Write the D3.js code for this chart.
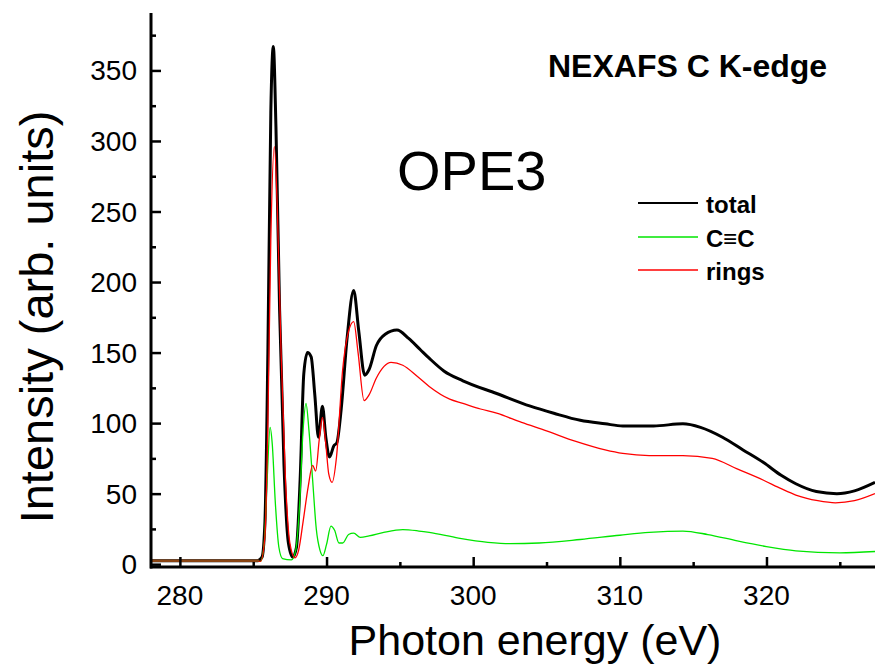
<!DOCTYPE html>
<html>
<head>
<meta charset="utf-8">
<script src="https://cdn.jsdelivr.net/npm/d3@7"></script>
<style>
  body { margin: 0; background: #fff; }
  svg { display: block; font-family: "Liberation Sans", Arial, sans-serif; }
</style>
</head>
<body>
<svg id="chart" width="875" height="670"></svg>
<script>
// photon energy (eV) and intensity
const totalE = [278, 285.3, 285.6, 285.8, 286.0, 286.2, 286.37, 286.55, 286.8, 287.1, 287.4, 287.7, 287.95, 288.2, 288.45, 288.7, 288.95, 289.2, 289.45, 289.72, 289.95, 290.2, 290.5, 290.7, 291.0, 291.4, 291.85, 292.2, 292.6, 292.9, 293.4, 294.0, 294.8, 295.6, 296.4, 297.0, 298.0, 299.3, 301.6, 303.9, 305.5, 307.3, 309, 310.2, 312.3, 314.3, 315.5, 317.0, 318.4, 319.8, 321.0, 322.0, 323.4, 324.8, 326.0, 327.4];
const totalI = [2.5, 2.5, 5, 30, 150, 320, 367, 310, 180, 70, 15, 5, 12, 60, 135, 150, 147, 120, 90, 112, 90, 76, 84, 86, 110, 160, 194, 165, 134, 138, 155, 163, 166, 160, 152, 146, 137, 130, 121, 112, 107, 102, 99.5, 98, 98, 99.5, 97, 90, 81, 72, 63, 57, 51.5, 50, 52, 58];

const ringsE = [278, 285.5, 285.8, 286.0, 286.2, 286.44, 286.65, 286.9, 287.2, 287.5, 287.85, 288.1, 288.4, 288.75, 289.05, 289.26, 289.5, 289.72, 289.95, 290.15, 290.38, 290.68, 291.1, 291.5, 291.85, 292.15, 292.56, 292.9, 293.4, 294.4, 295.2, 296.2, 297.0, 298.4, 299.3, 300.5, 301.6, 303.3, 305, 307, 309, 310.2, 312, 314.3, 316.3, 318, 319.8, 321, 322, 323.5, 324.7, 326, 327.4];
const ringsI = [2, 2, 20, 100, 230, 296, 250, 150, 60, 15, 4.5, 10, 30, 55, 70, 66, 88, 104, 85, 64, 58, 76, 138, 165, 172, 150, 116, 120, 132, 143, 141, 133, 126, 117, 114, 110, 107, 100.5, 94.5, 87, 81, 78.5, 77, 77, 75, 67.5, 59.5, 53.5, 49, 45, 43.5, 45, 50];

const ccE = [278, 285.5, 285.75, 285.95, 286.15, 286.3, 286.5, 286.75, 287.0, 287.6, 287.9, 288.15, 288.4, 288.6, 288.8, 289.05, 289.3, 289.55, 289.75, 290.0, 290.3, 290.55, 290.85, 291.1, 291.5, 291.85, 292.3, 292.9, 293.9, 295.2, 296.3, 297.0, 299, 301, 302.5, 304.5, 307.3, 310, 312, 314.3, 316, 318, 320, 322, 325, 327.4];
const ccI = [2, 2, 15, 60, 97, 85, 45, 12, 4, 3, 10, 40, 95, 114, 95, 60, 25, 10, 6, 14, 27, 24, 15, 15, 21, 22, 19, 20, 22.5, 24.5, 23.5, 22.5, 18.5, 15.5, 14.5, 15, 17.5, 20.5, 22.5, 23.5, 21, 16.5, 12.5, 9.5, 8, 9];

const preE = [278, 285.4];
const preI = [2.5, 2.5];

const xTicks = [280, 290, 300, 310, 320];
const yTicks = [0, 50, 100, 150, 200, 250, 300, 350];

const series = [
    {name: "total", e: totalE, v: totalI, color: "#000000", width: 3},
    {name: "C≡C", e: ccE, v: ccI, color: "#00e600", width: 1.3},
    {name: "rings", e: ringsE, v: ringsI, color: "#ff0000", width: 1.3}
];

const svg = d3.select("#chart");
const x = d3.scaleLinear().domain([278.03, 327.4]).range([151, 875]);
const y = d3.scaleLinear().domain([-2, 390]).range([567, 14]);

const line = d3.line()
    .x(d => x(d[0]))
    .y(d => y(d[1]))
    .curve(d3.curveMonotoneX);

const plot = svg.append("g");

series.forEach(s => {
    plot.append("path")
        .datum(s.e.map((e, i) => [e, s.v[i]]))
        .attr("fill", "none")
        .attr("stroke", s.color)
        .attr("stroke-width", s.width)
        .attr("stroke-linejoin", "round")
        .attr("d", line);
});

plot.append("path")
    .datum(preE.map((e, i) => [e, preI[i]]))
    .attr("fill", "none")
    .attr("stroke", "#8b4513")
    .attr("stroke-width", 2.5)
    .attr("d", line);

// axes, ticks pointing inward
const xAxis = svg.append("g")
    .attr("transform", `translate(0, ${y(-2)})`)
    .call(d3.axisTop(x).tickValues(d3.range(280, 330, 5)).tickSize(0).tickFormat(""));
xAxis.select(".domain").remove();
xAxis.selectAll(".tick line")
    .attr("y2", d => d % 10 === 0 ? -10 : -5)
    .attr("stroke", "#000")
    .attr("stroke-width", 2.5);

svg.append("line")
    .attr("x1", 150).attr("x2", 875)
    .attr("y1", y(-2)).attr("y2", y(-2))
    .attr("stroke", "#000").attr("stroke-width", 3);

svg.append("g").selectAll("text")
    .data(xTicks)
    .join("text")
    .attr("x", d => x(d))
    .attr("y", 605)
    .attr("text-anchor", "middle")
    .style("font-size", "28px")
    .text(d => d);

const yAxis = svg.append("g")
    .attr("transform", `translate(${x(278.03)}, 0)`)
    .call(d3.axisRight(y).tickValues(d3.range(0, 390, 25)).tickSize(0).tickFormat(""));
yAxis.select(".domain").remove();
yAxis.selectAll(".tick line")
    .attr("x2", d => d % 50 === 0 ? 10 : 5)
    .attr("stroke", "#000")
    .attr("stroke-width", 2.5);

svg.append("line")
    .attr("x1", 151).attr("x2", 151)
    .attr("y1", 13).attr("y2", 568.5)
    .attr("stroke", "#000").attr("stroke-width", 3);

svg.append("g").selectAll("text")
    .data(yTicks)
    .join("text")
    .attr("x", 137)
    .attr("y", d => y(d) + 10)
    .attr("text-anchor", "end")
    .style("font-size", "28px")
    .text(d => d);

svg.append("text")
    .attr("transform", "translate(53, 317) rotate(-90)")
    .attr("text-anchor", "middle")
    .style("font-size", "47px")
    .text("Intensity (arb. units)");

svg.append("text")
    .attr("x", 535)
    .attr("y", 655)
    .attr("text-anchor", "middle")
    .style("font-size", "43px")
    .text("Photon energy (eV)");

svg.append("text")
    .attr("x", 548)
    .attr("y", 77)
    .attr("font-weight", "bold")
    .style("font-size", "32px")
    .text("NEXAFS C K-edge");

svg.append("text")
    .attr("x", 397)
    .attr("y", 190)
    .style("font-size", "56px")
    .text("OPE3");

// legend
const legend = svg.append("g");
const legendY = [203, 237, 270];
series.forEach((s, i) => {
    legend.append("line")
        .attr("x1", 638).attr("x2", 698)
        .attr("y1", legendY[i]).attr("y2", legendY[i])
        .attr("stroke", s.color)
        .attr("stroke-width", s.width === 3 ? 2.2 : 1.3);
    legend.append("text")
        .attr("x", 706)
        .attr("y", legendY[i] + 10)
        .attr("font-weight", "bold")
        .style("font-size", "24px")
        .text(s.name);
});
</script>
</body>
</html>
